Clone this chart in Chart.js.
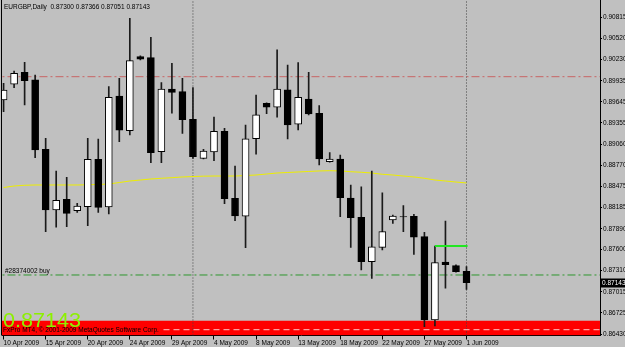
<!DOCTYPE html>
<html>
<head>
<meta charset="utf-8">
<script src="https://cdn.jsdelivr.net/npm/chart.js@4.4.1/dist/chart.umd.min.js"></script>
<style>
  html, body { margin: 0; padding: 0; background: #c0c0c0; }
  canvas { display: block; }
</style>
</head>
<body>
<canvas id="chart" width="625" height="347"></canvas>
<script>
const symbol = 'EURGBP,Daily';

// daily bars, 10 Apr 2009 .. 1 Jun 2009 (broker with sunday bars)
const opens  = [0.89671, 0.89888, 0.90054, 0.89948, 0.88989, 0.88149, 0.88297, 0.88139, 0.88195, 0.88850,
                0.88190, 0.89726, 0.89246, 0.90270, 0.90256, 0.88956, 0.89823, 0.89786, 0.89404, 0.88864,
                0.88951, 0.89238, 0.88311, 0.88062, 0.89135, 0.89625, 0.89570, 0.89813, 0.89335, 0.89685,
                0.89487, 0.88817, 0.88855, 0.88315, 0.88048, 0.87434, 0.87633, 0.88011, 0.88058, 0.88062,
                0.87780, 0.86627, 0.87430, 0.87379, 0.87300];
const highs  = [0.89902, 0.90072, 0.90192, 0.90017, 0.89141, 0.88689, 0.88602, 0.88242, 0.89141, 0.89131,
                0.89855, 0.89971, 0.90801, 0.90280, 0.90538, 0.89910, 0.90179, 0.89971, 0.89841, 0.88989,
                0.89436, 0.89279, 0.88758, 0.89325, 0.89740, 0.89630, 0.90363, 0.90155, 0.90187, 0.90054,
                0.89592, 0.88942, 0.88910, 0.88495, 0.88471, 0.88689, 0.88388, 0.88080, 0.88209, 0.88090,
                0.87840, 0.87651, 0.87997, 0.87390, 0.87366];
const lows   = [0.89509, 0.89841, 0.89602, 0.88873, 0.87849, 0.87910, 0.87918, 0.88117, 0.87932, 0.88117,
                0.88094, 0.89094, 0.89187, 0.90225, 0.88803, 0.88803, 0.89487, 0.89210, 0.88864, 0.88855,
                0.88831, 0.88236, 0.88001, 0.87628, 0.88920, 0.89481, 0.89432, 0.89131, 0.89256, 0.89463,
                0.88772, 0.88812, 0.88056, 0.87633, 0.87319, 0.87204, 0.87596, 0.87965, 0.87849, 0.87536,
                0.86534, 0.86544, 0.87066, 0.87290, 0.87051];
const closes = [0.89809, 0.90040, 0.89938, 0.88979, 0.88149, 0.88283, 0.88103, 0.88204, 0.88850, 0.88186,
                0.89708, 0.89252, 0.90215, 0.90234, 0.88942, 0.89823, 0.89777, 0.89398, 0.88886, 0.88965,
                0.89238, 0.88305, 0.88066, 0.89135, 0.89467, 0.89570, 0.89823, 0.89325, 0.89708, 0.89477,
                0.88855, 0.88855, 0.88319, 0.88043, 0.87434, 0.87641, 0.87849, 0.88066, 0.88054, 0.87772,
                0.86627, 0.87420, 0.87392, 0.87296, 0.87143];
// yellow moving average
const maValues = [0.88460, 0.88481, 0.88491, 0.88495, 0.88495, 0.88495, 0.88495, 0.88495, 0.88498, 0.88502,
                  0.88509, 0.88529, 0.88550, 0.88564, 0.88578, 0.88588, 0.88596, 0.88606, 0.88612, 0.88617,
                  0.88619, 0.88619, 0.88619, 0.88626, 0.88633, 0.88647, 0.88661, 0.88668, 0.88675, 0.88682,
                  0.88689, 0.88693, 0.88689, 0.88679, 0.88671, 0.88661, 0.88643, 0.88633, 0.88619, 0.88606,
                  0.88588, 0.88564, 0.88550, 0.88536, 0.88523];

const dateTicks = ['10 Apr 2009', '15 Apr 2009', '20 Apr 2009', '24 Apr 2009', '29 Apr 2009', '4 May 2009',
                   '8 May 2009', '13 May 2009', '18 May 2009', '22 May 2009', '27 May 2009', '1 Jun 2009'];
const dateStep = 4; // a date label every 4 bars
const priceTicks = [0.90815, 0.90520, 0.90230, 0.89935, 0.89645, 0.89355, 0.89060, 0.88770, 0.88475,
                    0.88185, 0.87890, 0.87600, 0.87310, 0.87015, 0.86725, 0.86430];

// chart objects
const redLevel = 0.89993;
const buyLevel = 0.87250;
const buyLabel = '#28374002 buy';
const targetLevel = 0.87651;
const targetFrom = 41, targetTo = 44.1;
const bandTop = 0.86618;
const bandLine = 0.86493;
const bandLineFrom = 15.2;
const separators = [18, 44]; // 1 May, 1 Jun
const copyright = 'FxPro MT4, \u00a9 2001-2009 MetaQuotes Software Corp.';

const yMin = 0.86413, yMax = 0.91054;
const xMin = -0.15, xMax = 56.69;

const fontFamily = '"Liberation Sans", Arial, sans-serif';
const smallFont = '6.5px ' + fontFamily;

function hline(level, from, to) {
  return [{x: from, y: level}, {x: to, y: level}];
}

const idx = closes.map((c, i) => i);
const bodies = idx.map(i => ({x: i, y: [opens[i], closes[i]]}));
const wicks = idx.map(i => ({x: i, y: [lows[i], highs[i]]}));
const bodyColors = idx.map(i => closes[i] >= opens[i] ? '#ffffff' : '#000000');

const datasets = [
  {
    type: 'line', data: hline(bandTop, xMin - 1, xMax + 1), fill: 'start',
    backgroundColor: '#ff0000', borderColor: '#ff0000', borderWidth: 0, pointRadius: 0, order: 10
  },
  {
    type: 'line', data: hline(bandLine, bandLineFrom, xMax + 1),
    borderColor: '#ffc8c8', borderWidth: 1, borderDash: [6, 4], pointRadius: 0, order: 9
  },
  ...separators.map(s => ({
    type: 'line', data: [{x: s, y: yMin}, {x: s, y: yMax}],
    borderColor: '#404040', borderWidth: 1, borderDash: [1, 2], pointRadius: 0, order: 9
  })),
  {
    type: 'line', data: hline(redLevel, xMin - 1, xMax + 1),
    borderColor: '#c86464', borderWidth: 1, borderDash: [8, 3, 2, 3], pointRadius: 0, order: 8
  },
  {
    type: 'line', data: hline(buyLevel, xMin - 1, xMax + 1),
    borderColor: '#2e962e', borderWidth: 1, borderDash: [8, 3, 2, 3], pointRadius: 0, order: 8
  },
  {
    type: 'line', data: idx.map(i => ({x: i, y: maValues[i]})),
    borderColor: '#eeee00', borderWidth: 1, pointRadius: 0, tension: 0, order: 7
  },
  {
    type: 'bar', data: wicks, backgroundColor: '#1a1a1a', barThickness: 1,
    grouped: false, order: 4
  },
  {
    type: 'bar', data: bodies, backgroundColor: bodyColors, borderColor: '#000000',
    borderWidth: 1, borderSkipped: false, barThickness: 7, grouped: false, order: 3
  },
  {
    type: 'line', data: hline(targetLevel, targetFrom, targetTo),
    borderColor: '#22e622', borderWidth: 2, pointRadius: 0, order: 1
  }
];

const overlay = {
  id: 'overlay',
  beforeDraw(chart) {
    const ctx = chart.ctx;
    ctx.save();
    ctx.fillStyle = '#c0c0c0';
    ctx.fillRect(0, 0, chart.width, chart.height);
    ctx.restore();
  },
  afterDatasetsDraw(chart) {
    const {ctx, chartArea, scales: {y}} = chart;
    const last = closes.length - 1;
    ctx.save();
    ctx.fillStyle = '#000';
    ctx.font = smallFont;
    ctx.textBaseline = 'middle';
    const ohlc = [opens[last], highs[last], lows[last], closes[last]].map(v => v.toFixed(5)).join(' ');
    ctx.fillText(symbol + '  ' + ohlc, 4, 7);
    ctx.fillText(buyLabel, 5, y.getPixelForValue(buyLevel) - 4);

    // big current price, bottom left (a bit wider than Arial)
    ctx.save();
    ctx.translate(3, 327);
    ctx.scale(1.08, 1);
    ctx.font = '20px ' + fontFamily;
    ctx.fillStyle = '#8cf000';
    ctx.textBaseline = 'alphabetic';
    ctx.fillText(closes[last].toFixed(5), 0, 0);
    ctx.restore();

    ctx.font = smallFont;
    ctx.fillStyle = '#000';
    ctx.textBaseline = 'middle';
    ctx.fillText(copyright, 3, 330.5);

    // left frame
    ctx.strokeStyle = '#000';
    ctx.lineWidth = 1;
    ctx.beginPath();
    ctx.moveTo(chartArea.left - 0.5, 0);
    ctx.lineTo(chartArea.left - 0.5, chartArea.bottom);
    ctx.stroke();
    ctx.restore();
  },
  afterDraw(chart) {
    const {ctx, chartArea, scales: {y}} = chart;
    const last = closes.length - 1;
    const py = y.getPixelForValue(closes[last]);
    ctx.save();
    ctx.fillStyle = '#000';
    ctx.fillRect(chartArea.right + 1, Math.round(py) - 4.5, 24, 9);
    ctx.fillStyle = '#fff';
    ctx.font = smallFont;
    ctx.textBaseline = 'middle';
    ctx.fillText(closes[last].toFixed(5), chartArea.right + 2, py);
    ctx.restore();
  }
};

new Chart(document.getElementById('chart'), {
  type: 'bar',
  data: {datasets: datasets},
  plugins: [overlay],
  options: {
    responsive: false,
    devicePixelRatio: 1,
    animation: false,
    events: [],
    layout: {padding: {left: 2, top: 0, right: 0, bottom: 0}},
    plugins: {legend: {display: false}, tooltip: {enabled: false}},
    scales: {
      x: {
        type: 'linear', position: 'bottom', min: xMin, max: xMax, offset: false, bounds: 'data',
        grid: {offset: false, drawOnChartArea: false, drawTicks: true, tickLength: 4, color: '#000'},
        border: {display: true, color: '#000'},
        ticks: {
          autoSkip: false, maxRotation: 0, align: 'start', padding: 0, color: '#000',
          font: {family: fontFamily, size: 6.5},
          callback: (v, k) => dateTicks[k]
        },
        afterBuildTicks: s => { s.ticks = dateTicks.map((d, k) => ({value: k * dateStep})); },
        afterFit: s => { s.height = 11.5; s.paddingLeft = 0; s.paddingRight = 0; }
      },
      y: {
        type: 'linear', position: 'right', min: yMin, max: yMax, bounds: 'data',
        grid: {drawOnChartArea: false, drawTicks: true, tickLength: 2, color: '#000'},
        border: {display: true, color: '#000'},
        ticks: {
          autoSkip: false, padding: 1, color: '#000',
          font: {family: fontFamily, size: 6.5},
          callback: v => v.toFixed(5)
        },
        afterBuildTicks: s => { s.ticks = priceTicks.map(v => ({value: v})); },
        afterFit: s => { s.width = 25; s.paddingTop = 0; s.paddingBottom = 0; }
      }
    }
  }
});
</script>
</body>
</html>
